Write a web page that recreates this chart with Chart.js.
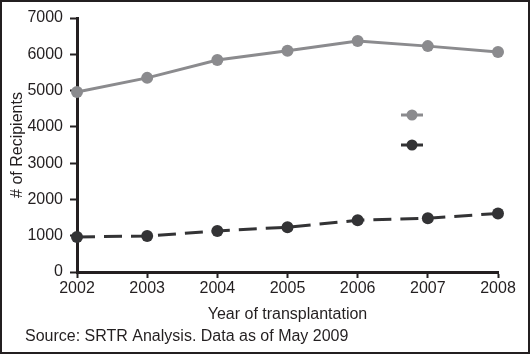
<!DOCTYPE html>
<html>
<head>
<meta charset="utf-8">
<script src="https://cdn.jsdelivr.net/npm/chart.js@4"></script>
<style>
html,body{margin:0;padding:0;background:#fff;}
#wrap{width:530px;height:354px;position:relative;}
</style>
</head>
<body>
<div id="wrap"><canvas id="c" width="530" height="354"></canvas></div>
<script>
const years = ['2002','2003','2004','2005','2006','2007','2008'];
const seriesA = [4960, 5350, 5840, 6100, 6365, 6225, 6060];
const seriesB = [965, 995, 1130, 1235, 1425, 1480, 1615];
const yTicks = [0, 1000, 2000, 3000, 4000, 5000, 6000, 7000];
const FONT = "'Liberation Sans', Arial, sans-serif";

const decor = {
  id: 'decor',
  beforeDraw(chart) {
    const ctx = chart.ctx;
    ctx.save();
    ctx.fillStyle = '#fff';
    ctx.fillRect(0, 0, chart.width, chart.height);
    ctx.restore();
  },
  afterDraw(chart) {
    const ctx = chart.ctx;
    ctx.save();
    ctx.strokeStyle = '#231f20';
    ctx.lineWidth = 2;
    ctx.strokeRect(1, 1, chart.width - 2, chart.height - 2);
    const items = [
      {ds: chart.data.datasets[0], x: 412, y: 115},
      {ds: chart.data.datasets[1], x: 412, y: 145}
    ];
    items.forEach(it => {
      ctx.strokeStyle = it.ds.borderColor;
      ctx.lineWidth = 3;
      ctx.beginPath();
      ctx.moveTo(it.x - 11, it.y);
      ctx.lineTo(it.x + 11, it.y);
      ctx.stroke();
      ctx.fillStyle = it.ds.pointBackgroundColor;
      ctx.beginPath();
      ctx.arc(it.x, it.y, 5.5, 0, Math.PI * 2);
      ctx.fill();
    });
    ctx.fillStyle = '#231f20';
    ctx.font = '16px ' + FONT;
    ctx.textBaseline = 'middle';
    ctx.textAlign = 'left';
    ctx.fillText('Source: SRTR Analysis. Data as of May 2009', 25, 337);
    ctx.restore();
  }
};

new Chart(document.getElementById('c'), {
  type: 'line',
  data: {
    labels: years,
    datasets: [
      {
        label: '',
        data: seriesA,
        borderColor: '#8b8b8e',
        backgroundColor: '#8b8b8e',
        pointBackgroundColor: '#8b8b8e',
        pointBorderColor: '#8b8b8e',
        borderWidth: 3,
        pointRadius: 6,
        pointBorderWidth: 0,
        tension: 0,
        clip: false
      },
      {
        label: '',
        data: seriesB,
        borderColor: '#333335',
        backgroundColor: '#333335',
        pointBackgroundColor: '#333335',
        pointBorderColor: '#333335',
        borderWidth: 3,
        borderDash: [18, 9],
        pointRadius: 6,
        pointBorderWidth: 0,
        tension: 0,
        clip: false
      }
    ]
  },
  options: {
    responsive: false,
    animation: false,
    layout: { padding: { left: 8, top: 18, right: 32, bottom: 30 } },
    plugins: {
      legend: { display: false },
      tooltip: { enabled: false }
    },
    scales: {
      x: {
        type: 'category',
        offset: false,
        grid: {
          display: true,
          drawOnChartArea: false,
          drawTicks: true,
          tickLength: 6,
          tickWidth: 2,
          tickColor: '#231f20'
        },
        border: { display: true, color: '#231f20', width: 3 },
        ticks: {
          color: '#231f20',
          font: { family: FONT, size: 16 },
          padding: 1,
          maxRotation: 0,
          autoSkip: false
        },
        title: {
          display: true,
          text: 'Year of transplantation',
          color: '#231f20',
          font: { family: FONT, size: 16 },
          padding: { top: 0, bottom: 0 }
        },
        afterFit(scale) { scale.height = 52; }
      },
      y: {
        min: 0,
        max: 7000,
        afterBuildTicks(scale) { scale.ticks = yTicks.map(v => ({ value: v })); },
        grid: {
          display: true,
          drawOnChartArea: false,
          drawTicks: true,
          tickLength: 7,
          tickWidth: 2,
          tickColor: '#231f20'
        },
        border: { display: true, color: '#231f20', width: 3 },
        ticks: {
          color: '#231f20',
          font: { family: FONT, size: 16 },
          padding: 7,
          callback: (v) => String(v)
        },
        title: {
          display: true,
          text: '# of Recipients',
          color: '#231f20',
          font: { family: FONT, size: 16 },
          padding: { top: 0, bottom: 0 }
        },
        afterFit(scale) { scale.width = 69; }
      }
    }
  },
  plugins: [decor]
});
</script>
</body>
</html>
